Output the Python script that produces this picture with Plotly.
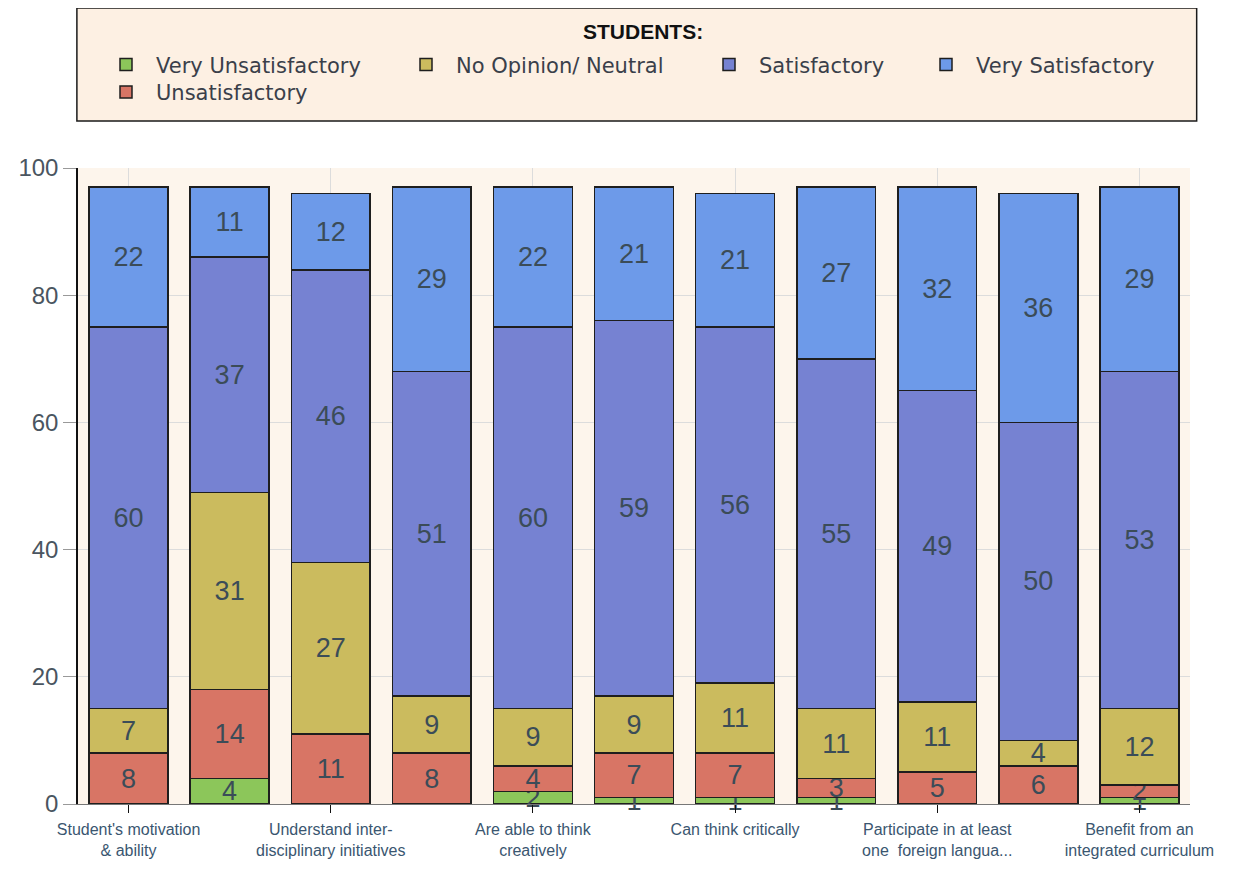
import plotly.graph_objects as go

# Categories (only every other label is printed on the axis)
categories = ["Student's motivation<br>& ability", "Item 2",
              "Understand inter-<br>disciplinary initiatives", "Item 4",
              "Are able to think<br>creatively", "Item 6",
              "Can think critically", "Item 8",
              "Participate in at least<br>one  foreign langua...", "Item 10",
              "Benefit from an<br>integrated curriculum"]
shown_ticks = categories[0::2]

very_unsat = [0, 4, 0, 0, 2, 1, 1, 1, 0, 0, 1]
unsat = [8, 14, 11, 8, 4, 7, 7, 3, 5, 6, 2]
neutral = [7, 31, 27, 9, 9, 9, 11, 11, 11, 4, 12]
satisfied = [60, 37, 46, 51, 60, 59, 56, 55, 49, 50, 53]
very_sat = [22, 11, 12, 29, 22, 21, 21, 27, 32, 36, 29]

series = [
    ('Very Unsatisfactory', very_unsat, '#8cc65a', 'legend'),
    ('Unsatisfactory', unsat, '#d87565', 'legend5'),
    ('No Opinion/ Neutral', neutral, '#cbbb5e', 'legend2'),
    ('Satisfactory', satisfied, '#7682d2', 'legend3'),
    ('Very Satisfactory', very_sat, '#6d9ae9', 'legend4'),
]

fig = go.Figure()
for name, vals, col, leg in series:
    fig.add_bar(
        x=categories, y=vals, name=name, showlegend=True,
        marker=dict(color=col, line=dict(color='#1e1e1e', width=1.5)),
        text=[str(v) if v > 0 else '' for v in vals],
        textposition='inside', insidetextanchor='middle', textangle=0,
        textfont=dict(size=27, color='#3b4c58', family='Arial'),
        cliponaxis=False, width=0.78, legend=leg)

# Legend frame + title
fig.add_shape(type='rect', xref='paper', yref='paper',
              x0=-0.001, x1=1.006, y0=1.074, y1=1.2516,
              line=dict(color='#1a1a1a', width=1.5), fillcolor='#fdf0e3', layer='below')
fig.add_annotation(text='<b>STUDENTS:</b>', xref='paper', yref='paper',
                   x=0.508, y=1.215, xanchor='center', yanchor='middle', showarrow=False,
                   font=dict(size=21, color='#111111', family='Arial'))

# one legend per entry so the entries sit where the reference puts them
def leg(text_px, row_y):
    return dict(orientation='h', x=(text_px - 61 - 78) / 1112, y=row_y,
                xanchor='left', yanchor='middle', bgcolor='rgba(0,0,0,0)',
                font=dict(size=21, color='#3a3f4a', family='DejaVu Sans'),
                itemwidth=50, visible=True)

fig.update_layout(
    barmode='stack', width=1232, height=855, showlegend=True,
    margin=dict(l=70, r=50, t=160, b=59, autoexpand=False),
    paper_bgcolor='white', plot_bgcolor='#fdf5ec',
    font=dict(family='Arial', color='#3b4c58'),
    uniformtext=dict(minsize=27, mode='show'),
    legend=leg(157, 1.162), legend2=leg(457, 1.162), legend3=leg(760, 1.162),
    legend4=leg(977, 1.162), legend5=leg(157, 1.119),
    xaxis=dict(tickvals=shown_ticks, ticktext=shown_ticks, showgrid=True,
               gridcolor='#dcdcdc', ticks='outside', ticklen=8, tickcolor='#111',
               showline=True, linecolor='#777', range=[-0.5, 10.5],
               automargin=False, ticklabelstandoff=3,
               tickfont=dict(size=16, color='#3a5670')),
    yaxis=dict(range=[0, 100], dtick=20, showgrid=True, gridcolor='#dcdcdc',
               ticks='outside', ticklen=13, tickcolor='#999', automargin=False,
               showline=True, linecolor='#111', linewidth=1.5, zeroline=False,
               tickfont=dict(size=24, color='#4a5560')),
)

fig.write_html("out.html")
